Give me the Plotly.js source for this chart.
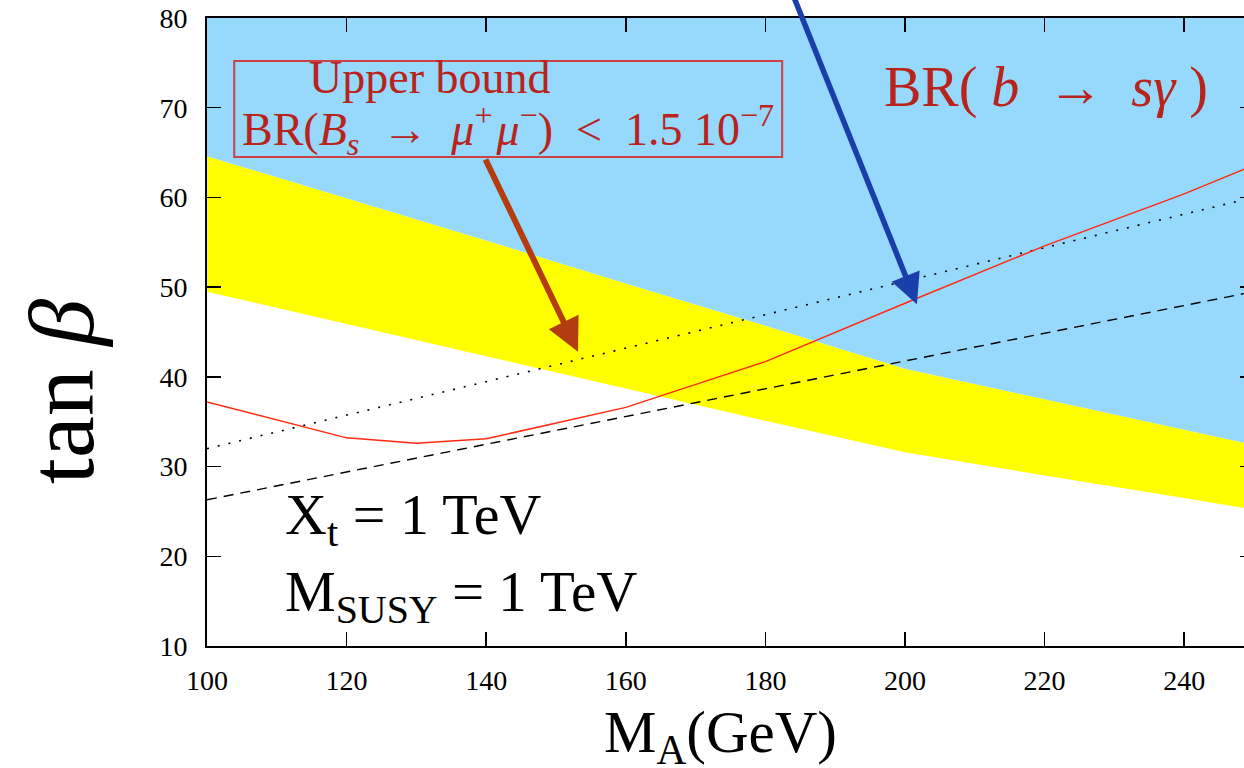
<!DOCTYPE html>
<html>
<head>
<meta charset="utf-8">
<script src="https://cdn.plot.ly/plotly-3.0.1.min.js"></script>
<style>
  html, body { margin: 0; padding: 0; overflow: hidden; background: #fff; }
  #chart { width: 1260px; height: 768px; }
</style>
</head>
<body>
<div id="chart"></div>
<script>
// M_A grid (GeV) for the excluded bands
const massA = [100, 120, 140, 160, 180, 200, 220, 240, 250];
// lower and upper edge of the yellow band (tan beta)
const bandLow = [49.5, 45.9, 42.3, 38.7, 35.1, 31.6, 29.0, 26.5, 25.2];
const bandHigh = [64.6, 59.9, 55.2, 50.4, 45.7, 40.9, 37.5, 34.1, 32.4];
// top of the plotted tan beta range (blue region reaches up to here)
const tanBetaTop = [80, 80, 80, 80, 80, 80, 80, 80, 80];

// Bs -> mu mu upper-bound curve (solid red)
const boundX = [100, 120, 130, 140, 160, 180, 200, 220, 240, 250];
const boundY = [37.2, 33.2, 32.6, 33.1, 36.6, 41.7, 48.2, 54.6, 60.4, 63.6];

// straight reference lines
const lineX = [100, 250];
const dottedY = [32.0, 60.0];
const dashedY = [26.3, 49.5];

// axis ticks
const xTicks = [100, 120, 140, 160, 180, 200, 220, 240];
const yTicks = [10, 20, 30, 40, 50, 60, 70, 80];

const serif = 'Liberation Serif, Times New Roman, serif';
const red = '#b8231b';
const ens = '\u2002';
const hair = '\u200A';

const traces = [
  { x: massA, y: bandLow, mode: 'lines', line: { width: 0, color: '#ffff00' } },
  { x: massA, y: bandHigh, mode: 'lines', fill: 'tonexty', fillcolor: '#ffff00', line: { width: 0, color: '#ffff00' } },
  { x: massA, y: tanBetaTop, mode: 'lines', fill: 'tonexty', fillcolor: '#97d8fd', line: { width: 0, color: '#97d8fd' } },
  { x: lineX, y: dottedY, mode: 'lines', line: { color: '#000', width: 1.6, dash: '2px,9px' } },
  { x: lineX, y: dashedY, mode: 'lines', line: { color: '#000', width: 1.4, dash: '10px,7px' } },
  { x: boundX, y: boundY, mode: 'lines', line: { color: '#ff2a10', width: 1.5 } }
];

const layout = {
  width: 1260,
  height: 768,
  margin: { l: 207, r: 6, t: 18, b: 122 },
  paper_bgcolor: '#fff',
  plot_bgcolor: '#fff',
  showlegend: false,
  hovermode: false,
  xaxis: {
    range: [100, 250],
    tickvals: xTicks,
    ticks: 'inside', ticklen: 14, tickwidth: 1.5, tickcolor: '#000',
    showline: true, linecolor: '#000', linewidth: 2, mirror: 'ticks',
    showgrid: false, zeroline: false,
    ticklabelstandoff: 8,
    tickfont: { family: serif, size: 28, color: '#000' }
  },
  yaxis: {
    range: [10, 80],
    tickvals: yTicks,
    ticks: 'inside', ticklen: 14, tickwidth: 1.5, tickcolor: '#000',
    showline: true, linecolor: '#000', linewidth: 2, mirror: 'ticks',
    showgrid: false, zeroline: false,
    ticklabelstandoff: 12,
    tickfont: { family: serif, size: 28, color: '#000' }
  },
  shapes: [
    { type: 'rect', xref: 'x', yref: 'y', x0: 103.9, x1: 182.4, y0: 64.5, y1: 75.2,
      line: { color: 'rgba(205,50,50,0.9)', width: 2 }, fillcolor: 'rgba(0,0,0,0)' }
  ],
  annotations: [
    // axis titles
    { xref: 'x', yref: 'paper', x: 173.5, y: -0.0812, xanchor: 'center', yanchor: 'top',
      text: 'M<sub>A</sub>(GeV)', showarrow: false, font: { family: serif, size: 59, color: '#000' } },
    { xref: 'paper', yref: 'y', x: -0.1394, y: 38.3, xanchor: 'center', yanchor: 'middle', textangle: -90,
      text: 'tan <i>β</i>', showarrow: false, font: { family: serif, size: 94, color: '#000' } },
    // labels
    { xref: 'x', yref: 'y', x: 131.9, y: 73.4, text: 'Upper bound', showarrow: false,
      font: { family: serif, size: 46, color: red } },
    { xref: 'x', yref: 'y', x: 143.1, y: 67.6,
      text: 'BR(<i>B<sub>s</sub></i>' + ens + '→' + ens + '<i>μ</i><sup>+</sup>' + hair + '<i>μ</i><sup>−</sup>)' + ens + '&lt;' + ens + '1.5 10<sup>−7</sup>',
      showarrow: false, font: { family: serif, size: 46, color: red } },
    { xref: 'x', yref: 'y', x: 220.2, y: 72.2, text: 'BR( <i>b</i>' + ens + '→' + ens + '<i>sγ</i> )', showarrow: false,
      font: { family: serif, size: 56, color: red } },
    { xref: 'x', yref: 'y', x: 110.9, y: 24.2, xanchor: 'left', text: 'X<sub>t</sub> = 1 TeV', showarrow: false,
      font: { family: serif, size: 58, color: '#000' } },
    { xref: 'x', yref: 'y', x: 110.9, y: 15.6, xanchor: 'left', text: 'M<sub>SUSY</sub> = 1 TeV', showarrow: false,
      font: { family: serif, size: 57, color: '#000' } },
    // arrow towards the Bs -> mu mu band
    { xref: 'x', yref: 'y', axref: 'x', ayref: 'y', x: 153.15, y: 42.8, ax: 139.8, ay: 64.4,
      text: '', showarrow: true, arrowhead: 2, arrowsize: 1.1, arrowwidth: 6, arrowcolor: '#b53c0e' },
    // arrow towards the b -> s gamma curve
    { xref: 'x', yref: 'y', axref: 'x', ayref: 'y', x: 201.7, y: 48.1, ax: 182.5, ay: 85.4,
      text: '', showarrow: true, arrowhead: 2, arrowsize: 1.1, arrowwidth: 5.5, arrowcolor: '#1a3faa' }
  ]
};

Plotly.newPlot('chart', traces, layout, { staticPlot: true, displayModeBar: false });
</script>
</body>
</html>
